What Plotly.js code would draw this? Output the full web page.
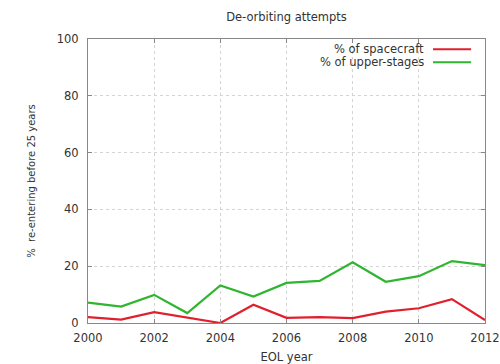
<!DOCTYPE html>
<html>
<head>
<meta charset="utf-8">
<script src="https://cdn.plot.ly/plotly-3.0.1.min.js"></script>
<style>html,body{margin:0;padding:0;background:#fff;}#chart{width:500px;height:364px;}</style>
</head>
<body>
<div id="chart"></div>
<script>
const years = [2000,2001,2002,2003,2004,2005,2006,2007,2008,2009,2010,2011,2012];
const spacecraftPct = [2.1,1.2,3.8,1.8,0.0,6.4,1.8,2.1,1.7,4.0,5.2,8.4,1.0];
const upperStagePct = [7.2,5.8,9.9,3.5,13.2,9.3,14.1,14.8,21.4,14.5,16.5,21.8,20.4];
const seriesNames = ['% of spacecraft', '% of upper-stages'];
const xTicks = [2000,2002,2004,2006,2008,2010,2012];
const yTicks = [0,20,40,60,80,100];

const red = '#e0202c', green = '#2fb52f';
const font = {family: 'DejaVu Sans, sans-serif', size: 11.5, color: '#333'};

const traces = [
  {x: years, y: spacecraftPct, name: seriesNames[0], type: 'scatter', mode: 'lines', line: {color: red, width: 2.2}, showlegend: false},
  {x: years, y: upperStagePct, name: seriesNames[1], type: 'scatter', mode: 'lines', line: {color: green, width: 2.2}, showlegend: false}
];

const axisCommon = {
  showline: true, linecolor: '#888', linewidth: 1, mirror: 'ticks',
  ticks: 'inside', ticklen: 4, tickcolor: '#888',
  showgrid: true, gridcolor: '#d4d4d4', griddash: 'dot', gridwidth: 1,
  zeroline: false, tickfont: font
};

const legendFont = {family: font.family, size: 11.5, color: '#333'};

const layout = {
  width: 500, height: 364,
  margin: {l: 88, r: 15, t: 39, b: 41},
  paper_bgcolor: '#fff', plot_bgcolor: '#fff',
  font: font,
  title: {text: 'De-orbiting attempts', font: {family: font.family, size: 11.5, color: '#333'}, x: 0.573, xanchor: 'center', y: 0.953, yanchor: 'middle'},
  xaxis: Object.assign({}, axisCommon, {range: [2000, 2012], tickvals: xTicks, ticklabelstandoff: 4,
    title: {text: 'EOL year', font: font, standoff: 10}}),
  yaxis: Object.assign({}, axisCommon, {range: [0, 100], tickvals: yTicks, ticklabelstandoff: 6,
    title: {text: '%  re-entering before 25 years', font: {family: font.family, size: 10, color: '#333'}, standoff: 19}}),
  annotations: [
    {xref: 'paper', yref: 'paper', x: 0.851, y: 0.964, xanchor: 'right', yanchor: 'middle', text: seriesNames[0], showarrow: false, font: legendFont},
    {xref: 'paper', yref: 'paper', x: 0.851, y: 0.918, xanchor: 'right', yanchor: 'middle', text: seriesNames[1], showarrow: false, font: legendFont}
  ],
  shapes: [
    {type: 'line', xref: 'paper', yref: 'paper', x0: 0.869, x1: 0.965, y0: 0.964, y1: 0.964, line: {color: red, width: 2}},
    {type: 'line', xref: 'paper', yref: 'paper', x0: 0.869, x1: 0.965, y0: 0.918, y1: 0.918, line: {color: green, width: 2}}
  ]
};

Plotly.newPlot('chart', traces, layout, {displayModeBar: false, staticPlot: true});
</script>
</body>
</html>
